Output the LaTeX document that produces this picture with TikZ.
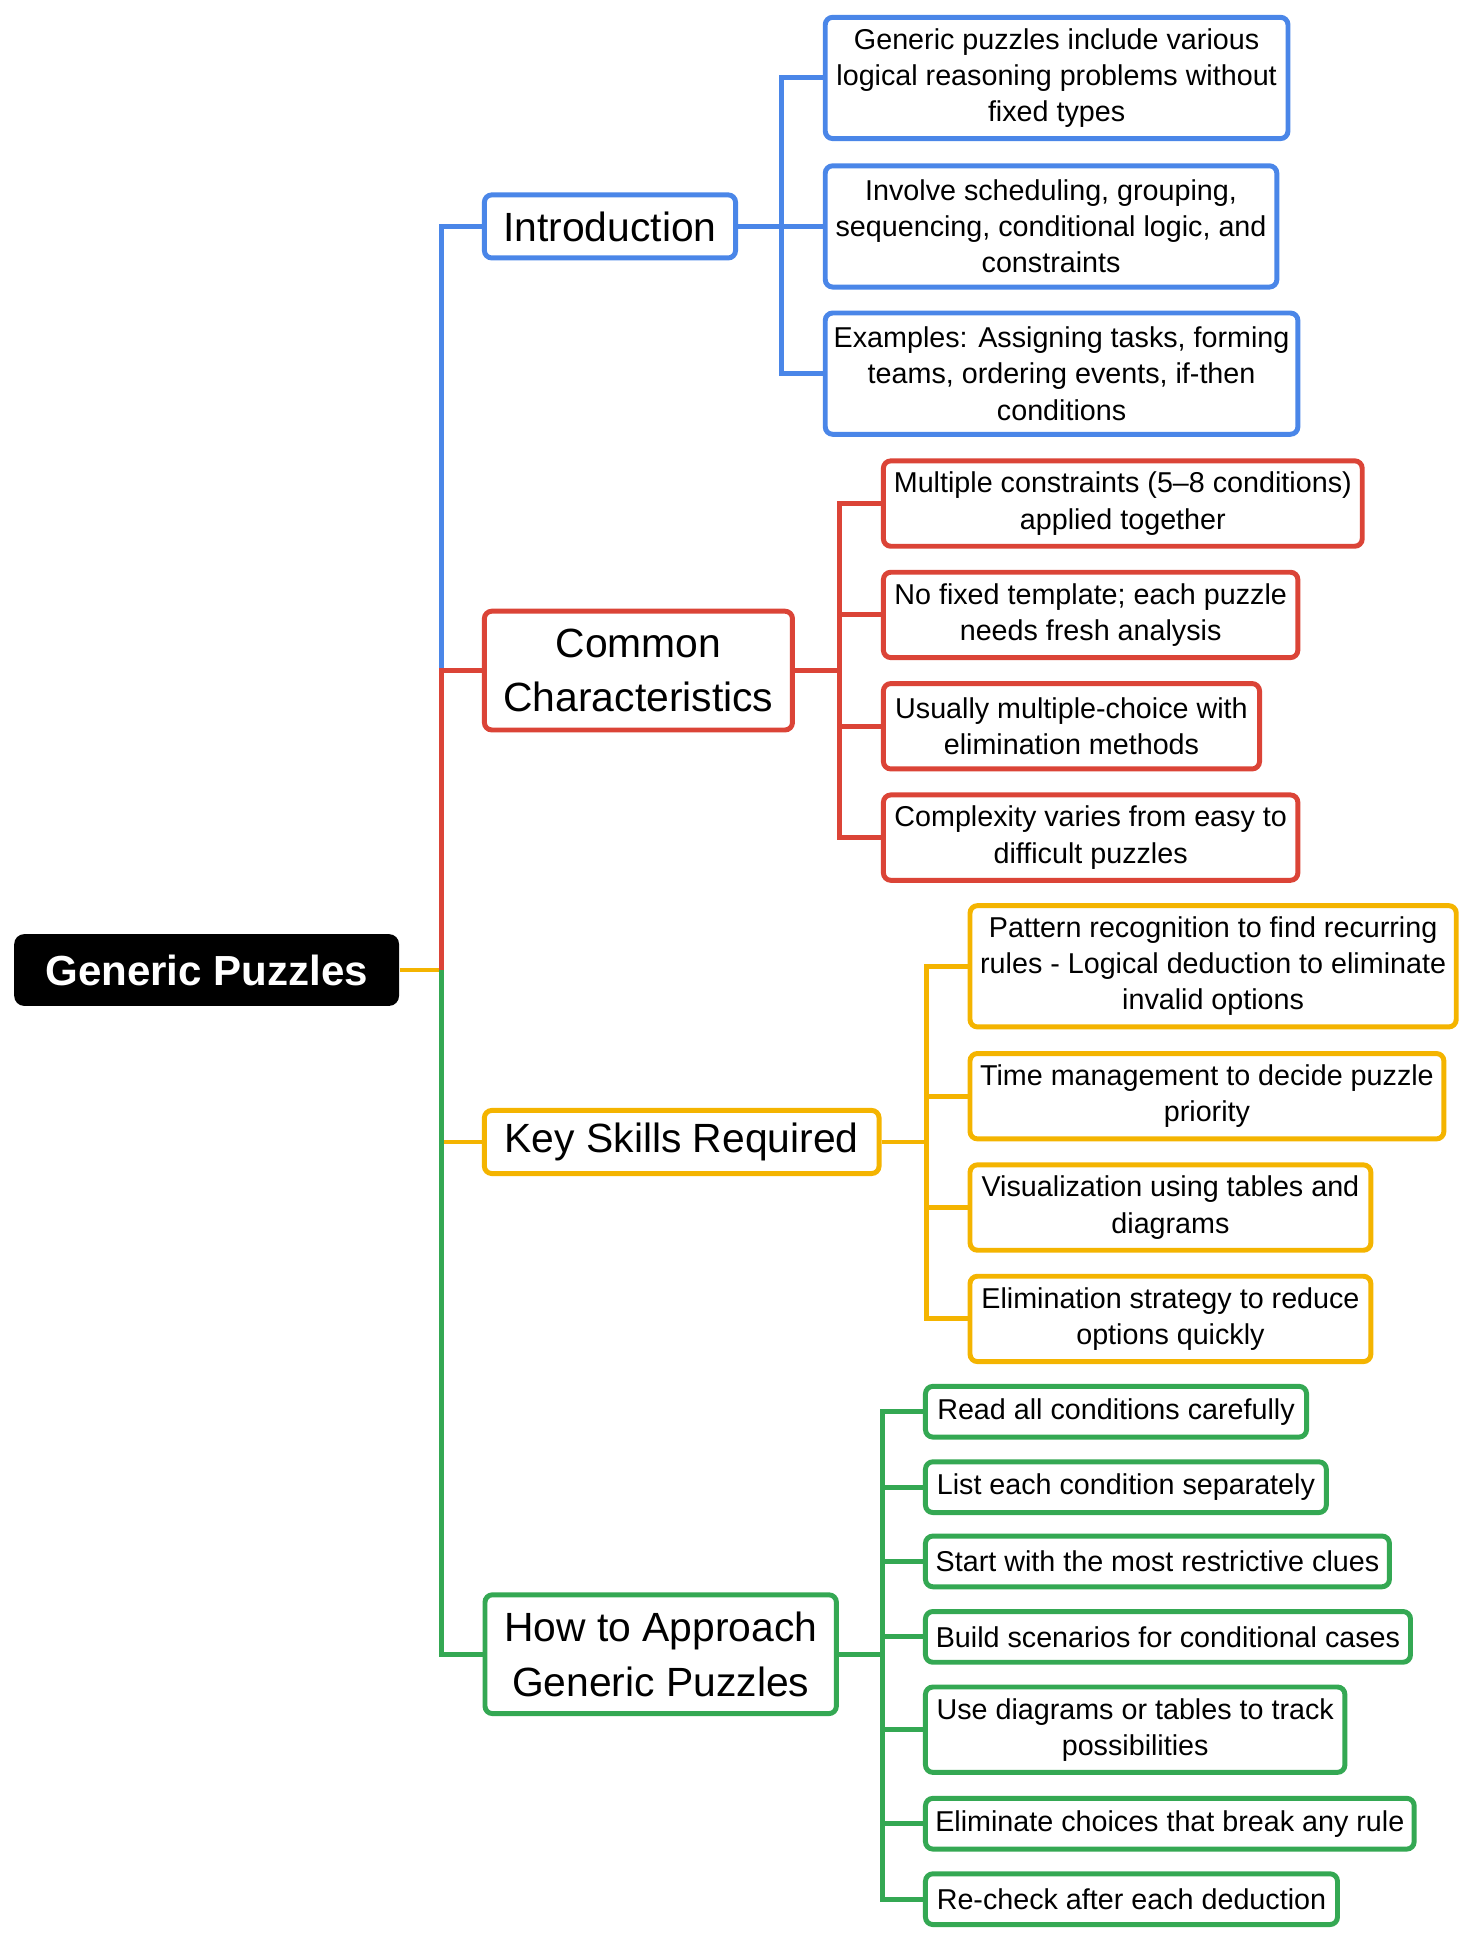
\documentclass[tikz,border=0pt]{standalone}
\usepackage{fontspec}
\setmainfont{Liberation Sans}
\definecolor{cblue}{HTML}{4A86E8}
\definecolor{cred}{HTML}{DB4437}
\definecolor{cyellow}{HTML}{F4B400}
\definecolor{cgreen}{HTML}{34A853}
\tikzset{
  leaf/.style={draw=#1, line width=2pt, rounded corners=3pt, fill=white, anchor=west,
    align=center, inner sep=2pt, font=\fontsize{11.6}{14.6}\selectfont},
  branch/.style={draw=#1, line width=2pt, rounded corners=3pt, fill=white,
    align=center, inner sep=4pt, font=\fontsize{16.5}{22}\selectfont},
  link/.style={draw=#1, line width=2pt},
}
\begin{document}
\begin{tikzpicture}[x=0.5pt,y=-0.5pt]
	\useasboundingbox (0,0) rectangle (1188,1568);
	%
	\node [fill=black, text=white, rounded corners=4pt, minimum width=155.5pt, minimum height=29pt,
		font=\fontsize{17}{20}\selectfont\bfseries] (root) at (167,784) {Generic Puzzles};
	%
	\node [branch=cblue, minimum width=101.5pt, minimum height=25.5pt] (intro) at (493,183) {Introduction};
	\node [branch=cred, minimum width=124.5pt, minimum height=48pt] (common) at (516,542) {Common\\Characteristics};
	\node [branch=cyellow, minimum width=159.5pt, minimum height=25.5pt] (skills) at (551,923) {Key Skills Required};
	\node [branch=cgreen, minimum width=142pt, minimum height=48pt] (approach) at (534,1337) {How to Approach\\Generic Puzzles};
	%
	\coordinate (trunk) at (357,784);
	\draw [link=cyellow] (root.east) -- (trunk);
	\draw [link=cblue] (357,542) |- (intro.west);
	\draw [link=cred] (357,784) |- (common.west);
	\draw [link=cyellow] (357,784) |- (skills.west);
	\draw [link=cgreen] (357,784) |- (approach.west);
	%
	\foreach \n/\y/\w/\h/\txt in {1/63/374/98/{Generic puzzles include various\\logical reasoning problems without\\fixed types},
		2/183/365/98/{Involve scheduling, grouping,\\sequencing, conditional logic, and\\constraints},
		3/302/382/98/{Examples: Assigning tasks, forming\\teams, ordering events, if-then\\conditions}}
	{
		\node [leaf=cblue, minimum width=\w/2 pt, minimum height=\h/2 pt] (intro\n) at (665,\y) {\txt};
		\draw [link=cblue] (intro.east) -- ++(35,0) |- (intro\n.west);
	}
	\foreach \n/\y/\w/\txt in {1/407/387/{Multiple constraints (5–8 conditions)\\applied together},
		2/497/335/{No fixed template; each puzzle\\needs fresh analysis},
		3/587/304/{Usually multiple-choice with\\elimination methods},
		4/677/335/{Complexity varies from easy to\\difficult puzzles}}
	{
		\node [leaf=cred, minimum width=\w/2 pt, minimum height=34.5pt] (common\n) at (712,\y) {\txt};
		\draw [link=cred] (common.east) -- ++(36,0) |- (common\n.west);
	}
	\foreach \n/\y/\w/\h/\txt in {1/781/393/98/{Pattern recognition to find recurring\\rules - Logical deduction to eliminate\\invalid options},
		2/886/383/69/{Time management to decide puzzle\\priority},
		3/976/324/69/{Visualization using tables and\\diagrams},
		4/1066/324/69/{Elimination strategy to reduce\\options quickly}}
	{
		\node [leaf=cyellow, minimum width=\w/2 pt, minimum height=\h/2 pt] (skills\n) at (782,\y) {\txt};
		\draw [link=cyellow] (skills.east) -- ++(36,0) |- (skills\n.west);
	}
	\foreach \n/\y/\w/\h/\txt in {1/1141/308/41/{Read all conditions carefully},
		2/1202/324/41/{List each condition separately},
		3/1262/375/41/{Start with the most restrictive clues},
		4/1323/392/41/{Build scenarios for conditional cases},
		5/1398/339/69/{Use diagrams or tables to track\\possibilities},
		6/1474/395/41/{Eliminate choices that break any rule},
		7/1535/333/41/{Re-check after each deduction}}
	{
		\node [leaf=cgreen, minimum width=\w/2 pt, minimum height=\h/2 pt] (approach\n) at (746,\y) {\txt};
		\draw [link=cgreen] (approach.east) -- ++(35,0) |- (approach\n.west);
	}
\end{tikzpicture}
\end{document}
